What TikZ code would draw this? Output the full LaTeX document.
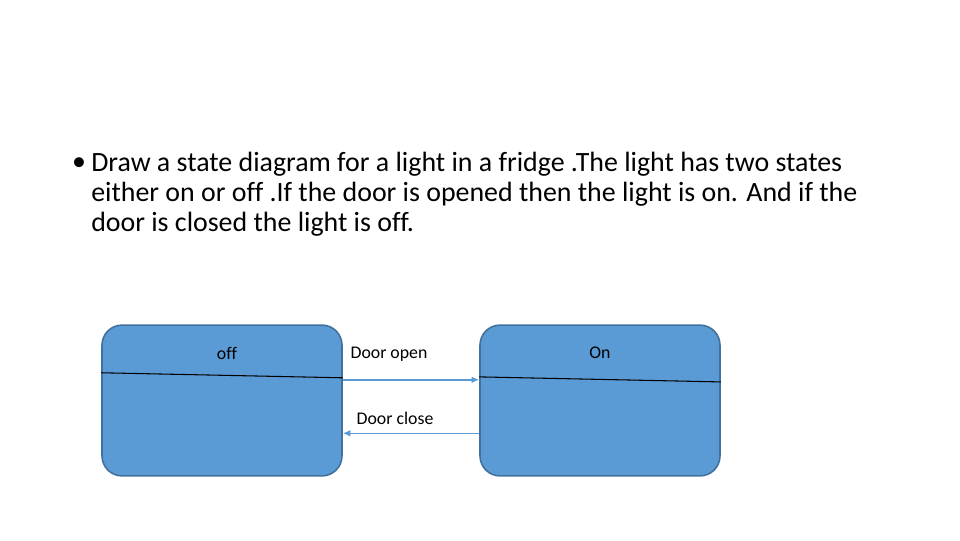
\documentclass[tikz,border=0pt]{standalone}
\usepackage{fontspec}
\setmainfont{Carlito}[Ligatures=NoCommon]
\usetikzlibrary{arrows.meta,positioning,calc}
\usepackage{xcolor}
\definecolor{statefill}{HTML}{5B9BD5}
\definecolor{stateedge}{HTML}{41719C}
\definecolor{ink}{HTML}{000000}
\tikzset{
  statebox/.style={draw=stateedge, line width=1.2pt, rounded corners=5.3mm, fill=statefill, minimum width=6.35cm, minimum height=3.99cm, inner sep=0pt},
  divider/.style={draw=ink, line width=0.8pt},
  trans/.style={-{Latex[length=2mm,width=1.8mm]}, line width=1.1pt, draw=statefill},
  small/.style={font=\fontsize{13.4pt}{15pt}\selectfont, inner sep=0pt, text=ink}
}

\begin{document}
\begin{tikzpicture}[x=0.0264583cm, y=-0.0264583cm]
  \useasboundingbox (0,0) rectangle (960,540);
  % task text
  \node[anchor=center, inner sep=0pt, font=\fontsize{21pt}{22.5pt}\selectfont] (bullet) at (79,164) {•};
  \node[anchor=north west, inner sep=0pt, align=left, font=\fontsize{21pt}{22.5pt}\selectfont] (task) at (91,152)
    {Draw a state diagram for a light in a fridge .The light has two states\\
     either on or off .If the door is opened then the light is on. And if the\\
     door is closed the light is off.};
  % states
  \node[statebox] (off) at (222,400.5) {};
  \node[statebox] (on) at (600,400.5) {};
  \node[small] (offname) at (227,353) {off};
  \node[small] (onname) at (600,353) {On};
  \draw[divider] ($(off.north west)!0.318!(off.south west)$) -- ($(off.north east)!0.351!(off.south east)$);
  \draw[divider] ($(on.north west)!0.345!(on.south west)$) -- ($(on.north east)!0.378!(on.south east)$);
  % transitions
  \draw[trans] ($(off.north east)!0.364!(off.south east)$) -- ($(on.north west)!0.364!(on.south west)$);
  \draw[trans] ($(on.north west)!0.715!(on.south west)$) -- ($(off.north east)!0.715!(off.south east)$);
  \node[small] (opentext) at (389,354) {Door open};
  \node[small] (closetext) at (395,418) {Door close};
\end{tikzpicture}
\end{document}
